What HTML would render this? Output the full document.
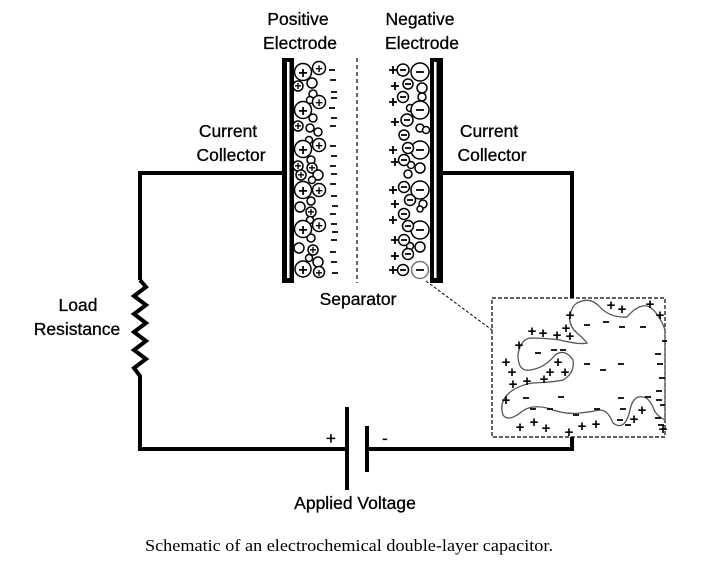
<!DOCTYPE html>
<html><head><meta charset="utf-8"><style>
body{margin:0;background:#fff;}
svg{display:block;}
.s{font-family:"Liberation Sans",Arial,sans-serif;}
</style></head><body>
<svg width="704" height="570" viewBox="0 0 704 570" xmlns="http://www.w3.org/2000/svg">
<g class="s" font-size="17.5" fill="#000" text-anchor="middle" stroke="#000" stroke-width="0.3">
<text x="298" y="25">Positive</text><text x="300" y="49">Electrode</text>
<text x="420" y="25">Negative</text><text x="422" y="49">Electrode</text>
<text x="228" y="137">Current</text><text x="231" y="161">Collector</text>
<text x="489" y="137">Current</text><text x="492" y="161">Collector</text>
<text x="358" y="305">Separator</text>
<text x="78" y="311">Load</text><text x="77" y="335">Resistance</text>
<text x="355" y="509">Applied Voltage</text>
<text x="331" y="444" font-size="17">+</text><text x="385" y="444" font-size="17">-</text>
</g>
<text x="145" y="551" textLength="408" lengthAdjust="spacingAndGlyphs" style="font-family:'Liberation Serif',serif;font-size:17px">Schematic of an electrochemical double-layer capacitor.</text>
<g stroke="#000" stroke-width="4" fill="none">
<polyline points="283,173 140,173 140,280"/>
<polyline points="140,280 146,287 134,296 146,305 134,314 146,323 134,332 146,341 134,350 146,359 134,368 140,376 140,449 347,449"/>
<polyline points="367,449 572,449 572,437"/>
<polyline points="443,173 572,173 572,298"/>
<line x1="347" y1="407" x2="347" y2="490"/>
<line x1="367" y1="426" x2="367" y2="472"/>
</g>
<rect x="282" y="58" width="12" height="225" fill="#000"/>
<rect x="287" y="62" width="2.5" height="216" fill="#fff"/>
<rect x="430" y="58" width="13" height="225" fill="#000"/>
<rect x="434" y="62" width="2.5" height="216" fill="#fff"/>
<line x1="357" y1="58" x2="357" y2="283" stroke="#000" stroke-width="1.2" stroke-dasharray="4,3"/>
<g stroke="#000" stroke-width="1.5" fill="#fff">
<circle cx="298" cy="86" r="5"/><circle cx="298" cy="126" r="5"/><circle cx="298" cy="166" r="5"/><circle cx="300" cy="207" r="5"/><circle cx="299" cy="248" r="5"/>
<circle cx="312" cy="83" r="5"/><circle cx="313" cy="94" r="4"/><circle cx="313" cy="118" r="4"/><circle cx="310" cy="128" r="4"/><circle cx="318" cy="132" r="4"/><circle cx="311" cy="160" r="4"/><circle cx="312" cy="168" r="5"/><circle cx="318" cy="175" r="5"/><circle cx="301" cy="175" r="5"/><circle cx="311" cy="201" r="4"/><circle cx="311" cy="212" r="5"/><circle cx="311" cy="238" r="4"/><circle cx="313" cy="250" r="5"/><circle cx="318" cy="262" r="5"/><circle cx="309" cy="140" r="3.5"/><circle cx="312" cy="180" r="3.5"/><circle cx="310" cy="220" r="3.5"/><circle cx="309" cy="258" r="3.5"/><circle cx="310" cy="100" r="3.5"/>
<circle cx="303" cy="72" r="8.5"/><circle cx="303" cy="110" r="8.5"/><circle cx="303" cy="149" r="8.5"/><circle cx="303" cy="190" r="8.5"/><circle cx="303" cy="229" r="8.5"/><circle cx="303" cy="269" r="8"/>
<circle cx="319" cy="68" r="6.5"/><circle cx="319" cy="102" r="6.5"/><circle cx="319" cy="145" r="6.5"/><circle cx="319" cy="190" r="6.5"/><circle cx="319" cy="225" r="6.5"/><circle cx="319" cy="272" r="5.5"/>
</g>
<g class="s" font-size="16" font-weight="bold" text-anchor="middle">
<text x="303" y="78">+</text><text x="303" y="116">+</text><text x="303" y="155">+</text><text x="303" y="196">+</text><text x="303" y="235">+</text><text x="303" y="275">+</text>
<text x="319" y="73" font-size="13">+</text><text x="319" y="107" font-size="13">+</text><text x="319" y="150" font-size="13">+</text><text x="319" y="195" font-size="13">+</text><text x="319" y="230" font-size="13">+</text><text x="319" y="277" font-size="12">+</text><text x="312" y="172" font-size="12">+</text><text x="301" y="179" font-size="12">+</text><text x="313" y="254" font-size="12">+</text><text x="298" y="90" font-size="12">+</text><text x="298" y="130" font-size="12">+</text><text x="298" y="170" font-size="12">+</text><text x="311" y="216" font-size="12">+</text>
</g>
<g stroke="#000" stroke-width="1.8">
<path d="M329,70h6M330,80h6M331,92h6M331,98h6M329,108h6M331,118h6M330,126h6M330,146h6M331,156h6M330,166h6M331,174h6M330,184h6M331,196h6M332,206h6M330,214h6M331,224h6M332,232h6M331,240h6M330,252h6M331,262h6M332,273h6"/>
</g>
<g stroke="#000" stroke-width="1.5" fill="#fff">
<circle cx="408" cy="84" r="5"/><circle cx="422" cy="88" r="5"/><circle cx="422" cy="97" r="4"/><circle cx="420" cy="128" r="4"/><circle cx="404" cy="135" r="5"/><circle cx="420" cy="168" r="5"/><circle cx="408" cy="174" r="4"/><circle cx="423" cy="204" r="4"/><circle cx="420" cy="247" r="5"/><circle cx="420" cy="209" r="3"/><circle cx="410" cy="108" r="3.5"/><circle cx="411" cy="165" r="3.5"/><circle cx="410" cy="246" r="3.5"/><circle cx="426" cy="130" r="3.5"/>
<circle cx="420" cy="72" r="9"/><circle cx="420" cy="110" r="9"/><circle cx="420" cy="150" r="9"/><circle cx="420" cy="190" r="9"/><circle cx="420" cy="230" r="9"/><circle cx="420" cy="270" r="8.5" stroke="#777"/>
<circle cx="403" cy="70" r="6"/><circle cx="403" cy="97" r="5.5"/><circle cx="407" cy="120" r="6"/><circle cx="408" cy="148" r="5.5"/><circle cx="404" cy="160" r="5.5"/><circle cx="404" cy="187" r="5.5"/><circle cx="410" cy="200" r="5.5"/><circle cx="404" cy="214" r="5.5"/><circle cx="408" cy="226" r="5.5"/><circle cx="404" cy="240" r="5.5"/><circle cx="408" cy="254" r="5.5"/><circle cx="403" cy="270" r="5.5"/>
</g>
<g stroke="#000" stroke-width="1.8">
<path d="M416,72h8M416,110h8M416,150h8M416,190h8M416,230h8M416,270h8M400,70h6M405,84h6M400,97h6M404,120h6M401,135h6M405,148h6M401,160h6M401,187h6M407,200h6M401,214h6M405,226h6M401,240h6M405,254h6M400,270h6"/>
<path d="M389,70h8M393,66v8M391,86h8M395,82v8M389,102h8M393,98v8M391,122h8M395,118v8M389,150h8M393,146v8M391,162h8M395,158v8M389,190h8M393,186v8M391,204h8M395,200v8M389,220h8M393,216v8M391,240h8M395,236v8M391,256h8M395,252v8M389,270h8M393,266v8"/>
</g>
<line x1="426" y1="281" x2="492" y2="330" stroke="#000" stroke-width="1" stroke-dasharray="3,2"/>
<rect x="492" y="298" width="173" height="139" fill="#fff" stroke="#000" stroke-width="1.2" stroke-dasharray="4,2"/>
<path d="M577,303 Q590,296 600,307 Q610,318 627,317 Q640,302 650,307 Q660,315 665,330 L665,420 Q655,415 653,407 Q648,397 643,397 Q633,395 630,410 Q625,432 613,423 Q608,410 600,410 Q590,412 580,413 Q565,415 547,408 Q530,404 520,413 Q508,422 503,415 Q498,400 513,390 Q523,384 533,383 Q555,382 563,380 Q575,373 573,360 Q565,348 555,355 Q545,368 530,370 Q518,372 518,355 Q520,340 530,338 Q545,338 560,340 Q580,345 587,343 Q583,338 577,333 Q568,325 570,315 Q572,306 577,303 Z" fill="none" stroke="#555" stroke-width="1.3"/>
<g class="s" font-size="15" font-weight="bold" text-anchor="middle">
<text x="570" y="320">+</text><text x="611" y="310">+</text><text x="622" y="314">+</text><text x="650" y="309">+</text><text x="660" y="320">+</text><text x="566" y="333">+</text>
<text x="532" y="336">+</text><text x="543" y="338">+</text><text x="557" y="340">+</text><text x="570" y="341">+</text><text x="519" y="350">+</text>
<text x="506" y="367">+</text><text x="512" y="377">+</text><text x="558" y="367">+</text><text x="550" y="377">+</text><text x="565" y="377">+</text>
<text x="513" y="389">+</text><text x="527" y="386">+</text><text x="544" y="384">+</text><text x="506" y="405">+</text>
<text x="642" y="415">+</text><text x="634" y="424">+</text><text x="520" y="432">+</text><text x="534" y="427">+</text><text x="546" y="433">+</text><text x="569" y="437">+</text><text x="582" y="431">+</text><text x="596" y="429">+</text><text x="663" y="434">+</text>
</g>
<g stroke="#000" stroke-width="1.8">
<path d="M584,325h6M603,322h6M619,327h6M640,327h6M662,341h5M535,353h6M551,350h6M560,350h6M584,364h6M600,370h6M618,364h6M655,354h6M657,364h6M659,378h6M656,391h6M656,400h6M523,398h6M558,397h6M618,398h6M645,397h6M660,405h5M530,409h6M547,409h6M594,409h6M620,409h6M617,420h6M625,425h6M655,418h6M573,415h6M658,425h6"/>
</g>
</svg>
</body></html>
